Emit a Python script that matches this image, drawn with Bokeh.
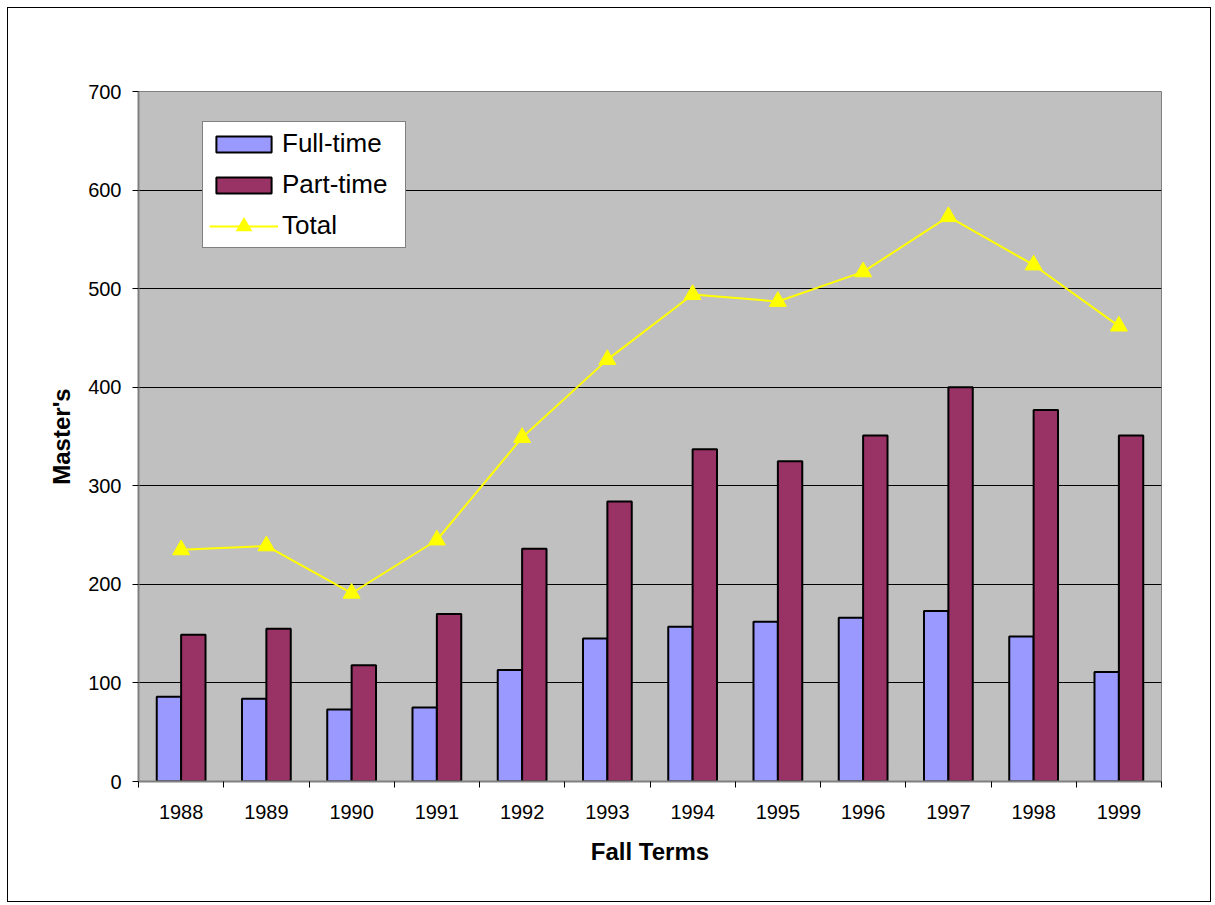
import numpy as np
from bokeh.plotting import figure
from bokeh.models import Range1d, FixedTicker, ColumnDataSource, Legend, LegendItem
from bokeh.embed import file_html
from bokeh.resources import INLINE

years = ["1988", "1989", "1990", "1991", "1992", "1993",
         "1994", "1995", "1996", "1997", "1998", "1999"]
full_time = [86, 84, 73, 75, 113, 145, 157, 162, 166, 173, 147, 111]
part_time = [149, 155, 118, 170, 236, 284, 337, 325, 351, 400, 377, 351]
total = [235, 239, 191, 245, 349, 428, 494, 487, 517, 573, 524, 462]
y_ticks = [0, 100, 200, 300, 400, 500, 600, 700]

FONT = "Liberation Sans"
idx = np.arange(len(years))
centers = idx + 0.5
bar_w = 0.286

src = ColumnDataSource(dict(
    x=centers, x_ft=centers - bar_w / 2, x_pt=centers + bar_w / 2,
    ft=full_time, pt=part_time, tot=total, year=years))

W, H = 1204, 895
p = figure(width=W, height=H, output_backend="svg", toolbar_location=None,
           x_range=Range1d(0, len(years)), y_range=Range1d(0, 700),
           min_border_left=130, min_border_right=51,
           min_border_top=83, min_border_bottom=122)
p.styles = {"border": "1px solid black", "margin-left": "7px", "margin-top": "7px"}

p.background_fill_color = "#C0C0C0"
p.border_fill_color = "white"
p.outline_line_color = "#808080"
p.outline_line_width = 1

# bars
r_ft = p.vbar(x="x_ft", top="ft", bottom=0, width=bar_w, source=src,
              fill_color="#9999FF", line_color="black", line_width=2)
r_pt = p.vbar(x="x_pt", top="pt", bottom=0, width=bar_w, source=src,
              fill_color="#993366", line_color="black", line_width=2)
# total line
r_line = p.line(x="x", y="tot", source=src, line_color="#FFFF00", line_width=2)
r_mark = p.scatter(x="x", y="tot", source=src, marker="triangle", size=17,
                   fill_color="#FFFF00", line_color="#FFFF00")
# legend-only marker (empty data) drawn with a thick mitred outline so the
# legend triangle has the same size as the plotted markers
r_mark_leg = p.scatter(x=[np.nan], y=[np.nan], marker="triangle", size=17,
                       fill_color="#FFFF00", line_color="#FFFF00",
                       line_width=5, line_join="miter")

# grid
p.xgrid.visible = False
p.ygrid.ticker = FixedTicker(ticks=y_ticks)
p.ygrid.grid_line_color = "black"
p.ygrid.grid_line_width = 1

# y axis
ya = p.yaxis[0]
ya.ticker = FixedTicker(ticks=y_ticks)
ya.axis_line_color = "#808080"
ya.axis_line_width = 2
ya.major_tick_out = 6
ya.major_tick_in = 0
ya.major_tick_line_color = "black"
ya.minor_tick_line_color = None
ya.major_label_standoff = 11
ya.major_label_text_font = FONT
ya.major_label_text_font_size = "20px"
ya.major_label_text_color = "black"
ya.axis_label = "Master's"
ya.axis_label_text_font = FONT
ya.axis_label_text_font_size = "24px"
ya.axis_label_text_font_style = "bold"
ya.axis_label_text_color = "black"
ya.axis_label_standoff = 10

# x axis: labels at category centres, ticks at category boundaries
xa = p.xaxis[0]
xa.ticker = FixedTicker(ticks=list(centers), minor_ticks=list(range(len(years) + 1)))
xa.major_label_overrides = {float(c): y for c, y in zip(centers, years)}
xa.axis_line_color = "#808080"
xa.axis_line_width = 2
xa.major_tick_out = 0
xa.major_tick_in = 0
xa.minor_tick_out = 6
xa.minor_tick_in = 0
xa.minor_tick_line_color = "black"
xa.major_label_standoff = 17
xa.major_label_text_font = FONT
xa.major_label_text_font_size = "20px"
xa.major_label_text_color = "black"
xa.axis_label = "Fall Terms"
xa.axis_label_text_font = FONT
xa.axis_label_text_font_size = "24px"
xa.axis_label_text_font_style = "bold"
xa.axis_label_text_color = "black"
xa.axis_label_standoff = 16

legend = Legend(items=[
    LegendItem(label="Full-time", renderers=[r_ft]),
    LegendItem(label="Part-time", renderers=[r_pt]),
    LegendItem(label="Total", renderers=[r_line, r_mark_leg]),
], location=(64, 533))
legend.label_text_font = FONT
legend.label_text_font_size = "26px"
legend.label_text_line_height = 1.0
legend.label_text_color = "black"
legend.glyph_width = 69
legend.glyph_height = 20
legend.label_height = 26
legend.label_width = 117
legend.label_standoff = 4
legend.spacing = 10
legend.padding = 6
legend.margin = 0
legend.border_line_color = "black"
legend.border_line_width = 1
legend.background_fill_color = "white"
legend.background_fill_alpha = 1
p.add_layout(legend, "center")

open("out.html", "w").write(file_html(p, INLINE))
